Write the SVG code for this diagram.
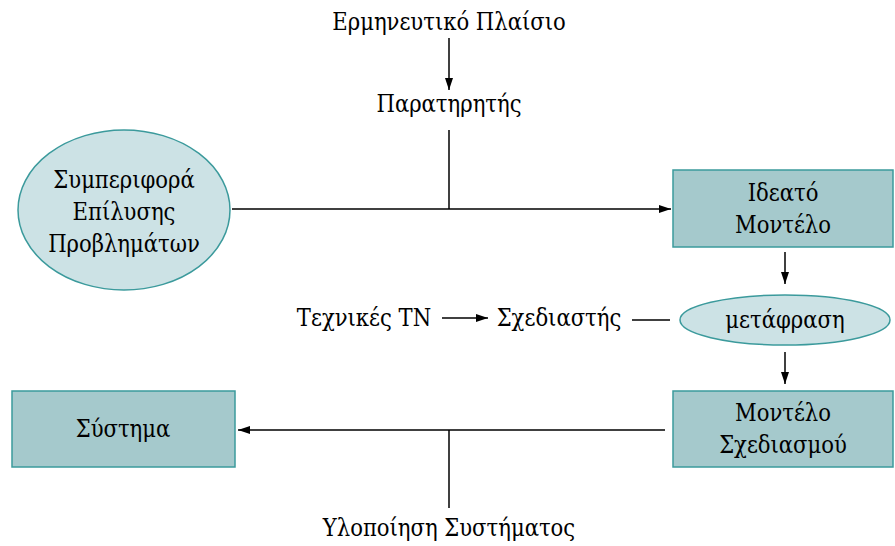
<svg xmlns="http://www.w3.org/2000/svg" width="895" height="546" viewBox="0 0 895 546">
  <style>
    .oval { fill: #cce2e5; stroke: #3b9a9c; stroke-width: 1.5; }
    .box { fill: #a5c9cc; stroke: #3b9a9c; stroke-width: 1.5; }
    .ln { stroke: #000; stroke-width: 1.5; fill: none; }
    .t { font-family: "DejaVu Serif Condensed", "DejaVu Serif", serif; font-stretch: condensed; font-size: 23.5px; text-anchor: middle; fill: #000; }
  </style>
  <defs>
    <marker id="ah" viewBox="0 0 12 8" refX="12" refY="4" markerWidth="12" markerHeight="8" markerUnits="userSpaceOnUse" orient="auto">
      <path d="M0,0 L12,4 L0,8 Z" fill="#000"/>
    </marker>
  </defs>

  <rect width="895" height="546" fill="#fff"/>

  <!-- connectors -->
  <g id="connectors">
    <line class="ln" x1="449" y1="38" x2="449" y2="90" marker-end="url(#ah)"/>
    <line class="ln" x1="449" y1="130" x2="449" y2="209"/>
    <line class="ln" x1="232" y1="209" x2="671" y2="209" marker-end="url(#ah)"/>
    <line class="ln" x1="785" y1="252" x2="785" y2="284" marker-end="url(#ah)"/>
    <line class="ln" x1="442" y1="318" x2="488" y2="318" marker-end="url(#ah)"/>
    <line class="ln" x1="632" y1="320" x2="670" y2="320"/>
    <line class="ln" x1="785" y1="352" x2="785" y2="384" marker-end="url(#ah)"/>
    <line class="ln" x1="665" y1="430" x2="238" y2="430" marker-end="url(#ah)"/>
    <line class="ln" x1="449" y1="430" x2="449" y2="508"/>
  </g>

  <!-- labels -->
  <g id="label-framework"><text class="t" x="449" y="30">Ερμηνευτικό Πλαίσιο</text></g>
  <g id="label-observer"><text class="t" x="449" y="112">Παρατηρητής</text></g>
  <g id="label-techniques"><text class="t" x="364" y="326">Τεχνικές ΤΝ</text></g>
  <g id="label-designer"><text class="t" x="559" y="326">Σχεδιαστής</text></g>
  <g id="label-implementation"><text class="t" x="449" y="536">Υλοποίηση Συστήματος</text></g>

  <!-- nodes -->
  <g id="node-behaviour">
    <ellipse class="oval" cx="124" cy="210" rx="106" ry="80"/>
    <text class="t" x="124" y="188">Συμπεριφορά</text>
    <text class="t" x="124" y="220">Επίλυσης</text>
    <text class="t" x="124" y="252">Προβλημάτων</text>
  </g>

  <g id="node-conceptual-model">
    <rect class="box" x="673" y="170" width="220" height="77"/>
    <text class="t" x="783" y="201">Ιδεατό</text>
    <text class="t" x="783" y="233">Μοντέλο</text>
  </g>

  <g id="node-translation">
    <ellipse class="oval" cx="785" cy="320" rx="105" ry="25"/>
    <text class="t" x="785" y="328">μετάφραση</text>
  </g>

  <g id="node-design-model">
    <rect class="box" x="673" y="391" width="220" height="76"/>
    <text class="t" x="783" y="421">Μοντέλο</text>
    <text class="t" x="783" y="453">Σχεδιασμού</text>
  </g>

  <g id="node-system">
    <rect class="box" x="12" y="391" width="223" height="76"/>
    <text class="t" x="123" y="437">Σύστημα</text>
  </g>
</svg>
